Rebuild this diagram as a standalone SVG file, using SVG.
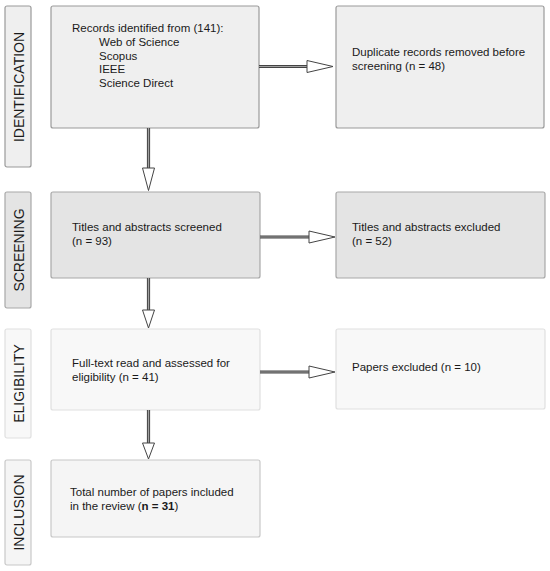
<svg xmlns="http://www.w3.org/2000/svg" width="550" height="571" viewBox="0 0 550 571">
<style>
text{font-family:"Liberation Sans",Arial,sans-serif;fill:#1a1a1a}
.t{font-size:11.5px}
.lab{font-size:14px;text-anchor:middle}
.id{fill:#efefef;stroke:#9a9a9a;stroke-width:1.2}
.sc{fill:#e4e4e4;stroke:#a8a8a8;stroke-width:1.2}
.el{fill:#f8f8f8;stroke:#e0e0e0;stroke-width:1.2}
.in{fill:#f5f5f5;stroke:#c8c8c8;stroke-width:1.2}
.sh{stroke:#444;stroke-width:3.2;fill:none}
.si{stroke:#a0a0a0;stroke-width:1.2;fill:none}
.hd{fill:#fff;stroke:#444;stroke-width:1}
</style>
<rect width="550" height="571" fill="#fff"/>
<g id="label-identification"><rect class="id" x="5" y="6" width="26" height="161" rx="2"/><text class="lab" transform="translate(24,87) rotate(-90)">IDENTIFICATION</text></g>
<g id="label-screening"><rect class="sc" x="5" y="192" width="26" height="116" rx="2"/><text class="lab" transform="translate(24,250) rotate(-90)">SCREENING</text></g>
<g id="label-eligibility"><rect class="el" x="5" y="329" width="26" height="109" rx="2"/><text class="lab" transform="translate(24,383.5) rotate(-90)">ELIGIBILITY</text></g>
<g id="label-inclusion"><rect class="in" x="5" y="460" width="26" height="105" rx="2"/><text class="lab" transform="translate(24,512.5) rotate(-90)">INCLUSION</text></g>

<g id="records"><rect class="id" x="51" y="6" width="208" height="122" rx="2"/>
<text class="t" x="72" y="32">Records identified from (141):</text>
<text class="t" x="99" y="46">Web of Science</text>
<text class="t" x="99" y="59.5">Scopus</text>
<text class="t" x="99" y="73">IEEE</text>
<text class="t" x="99" y="86.5">Science Direct</text></g>
<g id="duplicates"><rect class="id" x="336" y="6" width="208" height="122" rx="2"/>
<text class="t" x="352" y="56">Duplicate records removed before</text>
<text class="t" x="352" y="69.5">screening (n = 48)</text></g>
<g id="screened"><rect class="sc" x="51" y="192" width="209" height="86" rx="2"/>
<text class="t" x="72" y="231">Titles and abstracts screened</text>
<text class="t" x="72" y="245">(n = 93)</text></g>
<g id="excluded-ta"><rect class="sc" x="336" y="192" width="209" height="86" rx="2"/>
<text class="t" x="352" y="231">Titles and abstracts excluded</text>
<text class="t" x="352" y="245">(n = 52)</text></g>
<g id="fulltext"><rect class="el" x="51" y="329" width="209" height="81" rx="2"/>
<text class="t" x="72" y="367">Full-text read and assessed for</text>
<text class="t" x="72" y="380.5">eligibility (n = 41)</text></g>
<g id="excluded-papers"><rect class="el" x="336" y="329" width="209" height="80" rx="2"/>
<text class="t" x="352" y="371">Papers excluded (n = 10)</text></g>
<g id="included"><rect class="in" x="51" y="460" width="209" height="77" rx="2"/>
<text class="t" x="70" y="496">Total number of papers included</text>
<text class="t" x="70" y="510">in the review (<tspan font-weight="bold">n = 31</tspan>)</text></g>

<g id="connectors">
<line class="sh" x1="148.5" y1="128" x2="148.5" y2="169"/><line class="si" x1="148.5" y1="128" x2="148.5" y2="169"/>
<polygon class="hd" points="142.5,168 154.5,168 148.5,190.5"/>
<line class="sh" x1="148.5" y1="278" x2="148.5" y2="311"/><line class="si" x1="148.5" y1="278" x2="148.5" y2="311"/>
<polygon class="hd" points="142.5,310 154.5,310 148.5,328"/>
<line class="sh" x1="148.5" y1="410" x2="148.5" y2="444"/><line class="si" x1="148.5" y1="410" x2="148.5" y2="444"/>
<polygon class="hd" points="142.5,443 154.5,443 148.5,459"/>
<line class="sh" x1="259" y1="66.5" x2="308" y2="66.5"/><line class="si" x1="259" y1="66.5" x2="308" y2="66.5"/>
<polygon class="hd" points="307,60.5 307,72.5 333,66.5"/>
<line class="sh" x1="260" y1="237" x2="310" y2="237"/><line class="si" x1="260" y1="237" x2="310" y2="237"/>
<polygon class="hd" points="309,231 309,243 335,237"/>
<line class="sh" x1="260" y1="372" x2="310" y2="372"/><line class="si" x1="260" y1="372" x2="310" y2="372"/>
<polygon class="hd" points="309,366 309,378 335,372"/>
</g>
</svg>
